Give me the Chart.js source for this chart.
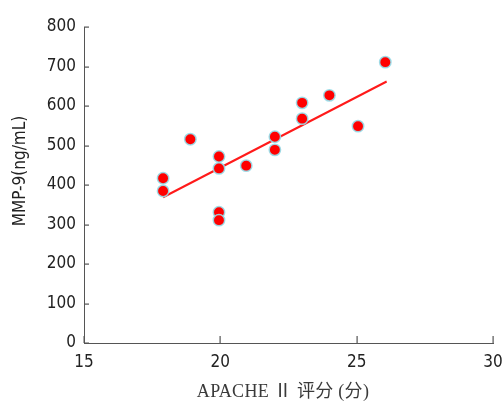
<!DOCTYPE html>
<html>
<head>
<meta charset="utf-8">
<script src="https://cdn.jsdelivr.net/npm/chart.js@4/dist/chart.umd.min.js"></script>
<style>
  html, body { margin: 0; padding: 0; background: #fff; }
  #wrap { width: 502px; height: 403px; }
</style>
</head>
<body>
<div id="wrap"><canvas id="c" width="502" height="403"></canvas></div>
<script>
// APACHE II score vs serum MMP-9
const apacheScores = [17.9, 17.9, 18.9, 19.95, 19.95, 19.95, 19.95, 20.95, 22, 22, 23, 23, 24, 25.05, 26.05];
const mmp9Levels   = [417, 385, 516, 472, 442, 331, 311, 449, 522, 489, 608, 568, 627, 549, 711];

// Fitted regression line end points
const fitX = [17.9, 26.1];
const fitY = [369, 662];

const xTicks = [15, 20, 25, 30];
const yTicks = [0, 100, 200, 300, 400, 500, 600, 700, 800];

const xTitle = 'APACHE Ⅱ 评分 (分)';
const yTitle = 'MMP-9(ng/mL)';

const axisColor = '#555555';
const textColor = '#222222';
const tickFont = { family: '"DejaVu Sans Condensed", "DejaVu Sans", sans-serif', size: 17 };

// Inward tick marks and both axis titles
const axisDecor = {
  id: 'axisDecor',
  afterDraw(chart) {
    const { ctx, chartArea, scales } = chart;
    const x = scales.x, y = scales.y;
    ctx.save();
    ctx.fillStyle = axisColor;
    xTicks.forEach(v => {
      const px = Math.round(x.getPixelForValue(v));
      ctx.fillRect(px - 0.5, chartArea.bottom - 7, 1.2, 7);
    });
    yTicks.forEach(v => {
      const py = Math.round(y.getPixelForValue(v));
      ctx.fillRect(chartArea.left, py - 0.5, 5, 1.2);
    });

    // x title, serif
    ctx.fillStyle = '#3a3a3a';
    ctx.font = '18px "Liberation Serif", "Noto Sans CJK SC", serif';
    if ('letterSpacing' in ctx) ctx.letterSpacing = '0.3px';
    ctx.textAlign = 'center';
    ctx.textBaseline = 'middle';
    ctx.fillText(xTitle, 283, 392);
    if ('letterSpacing' in ctx) ctx.letterSpacing = '0px';

    // y title, rotated
    ctx.fillStyle = textColor;
    ctx.font = '17px "DejaVu Sans Condensed", "DejaVu Sans", sans-serif';
    ctx.translate(21, 171);
    ctx.rotate(-Math.PI / 2);
    ctx.fillText(yTitle, 0, 0);
    ctx.restore();
  }
};

new Chart(document.getElementById('c'), {
  type: 'scatter',
  data: {
    datasets: [
      {
        type: 'scatter',
        data: apacheScores.map((v, i) => ({ x: v, y: mmp9Levels[i] })),
        backgroundColor: '#ff0000',
        borderColor: 'rgba(150,222,234,0.9)',
        borderWidth: 1.5,
        pointRadius: 5.7,
        order: 0
      },
      {
        type: 'line',
        data: fitX.map((v, i) => ({ x: v, y: fitY[i] })),
        borderColor: '#ff1a1a',
        borderWidth: 2,
        pointRadius: 0,
        fill: false,
        order: 1
      }
    ]
  },
  options: {
    responsive: false,
    animation: false,
    devicePixelRatio: 1,
    layout: { padding: { top: 27, right: 0, left: 0, bottom: 0 } },
    plugins: { legend: { display: false }, tooltip: { enabled: false } },
    scales: {
      x: {
        type: 'linear',
        min: 15, max: 30,
        afterBuildTicks: s => { s.ticks = xTicks.map(v => ({ value: v })); },
        afterFit: s => { s.height = 60; s.paddingRight = 9; },
        grid: { display: false, drawTicks: false },
        border: { display: true, color: axisColor, width: 1 },
        ticks: { color: textColor, font: tickFont, padding: 9, maxRotation: 0 },
        title: { display: false }
      },
      y: {
        min: 0, max: 800,
        afterBuildTicks: s => { s.ticks = yTicks.map(v => ({ value: v })); },
        afterFit: s => { s.width = 84; },
        grid: { display: false, drawTicks: false },
        border: { display: true, color: axisColor, width: 1 },
        ticks: { color: textColor, font: tickFont, padding: 8 }
      }
    }
  },
  plugins: [axisDecor]
});
</script>
</body>
</html>
